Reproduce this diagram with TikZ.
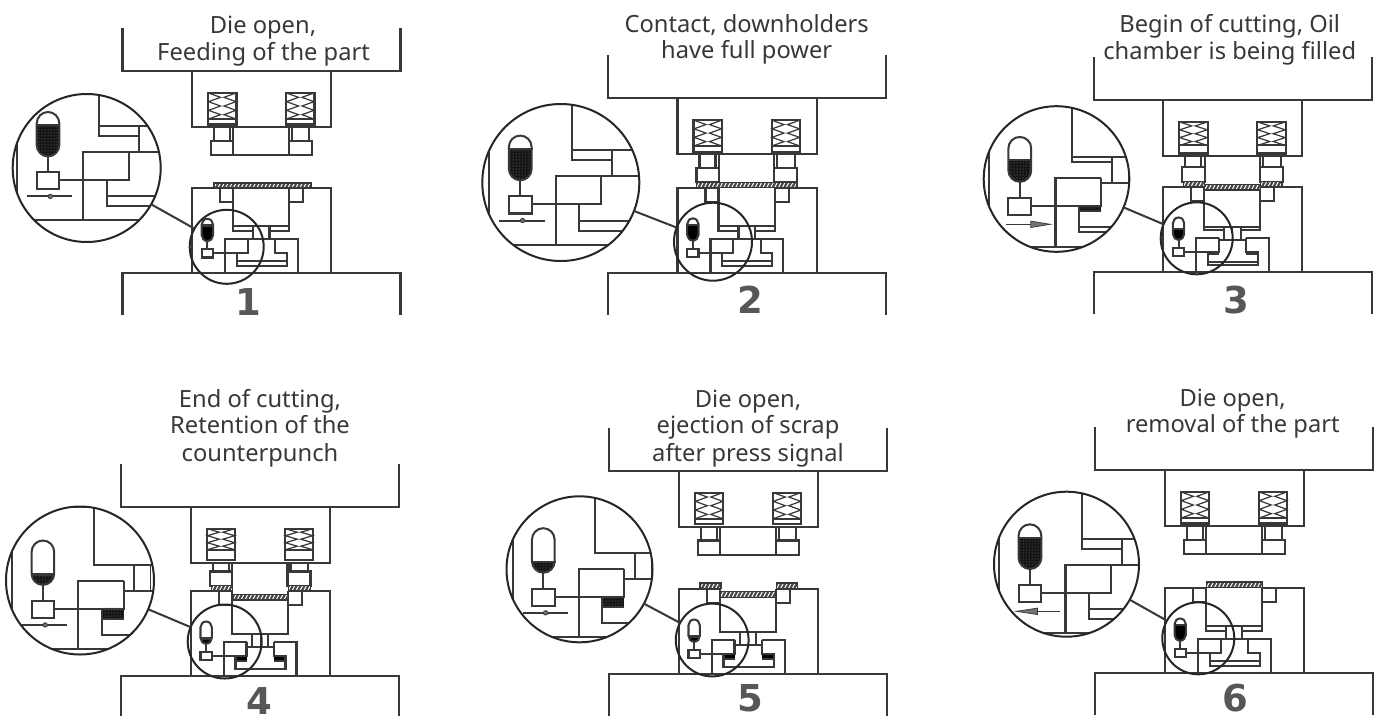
\documentclass[tikz,border=0pt]{standalone}
\usepackage{fontspec}
\setmainfont{DejaVu Sans}
\newfontfamily\capfont{Noto Sans}
\usetikzlibrary{patterns}
\definecolor{ink}{HTML}{383838}
\tikzset{
  captext/.style={anchor=base,inner sep=0,text=black!78,font=\capfont\fontsize{23.7}{27}\selectfont},
  numtext/.style={anchor=base,inner sep=0,text=black!66,font=\bfseries\fontsize{37}{40}\selectfont},
  lensbig/.style={circle,draw=black!85,line width=2pt,inner sep=0,outer sep=0},
  oilsolid/.style={fill=black},
  oiltex/.style={preaction={fill=black!92},pattern=dots,pattern color=black!45},
  oil/.style={oilsolid}
}
% hatched plate
\newcommand{\hatchbar}[4]{%
  \begin{scope}
    \clip (#1,#2) rectangle (#3,#4);
    \fill[black!72] (#1,#2) rectangle (#3,#4);
    \foreach \k in {0,...,27}{\draw[white,line width=1pt] ({#1+\k*3.9-4},{#4}) -- ++(3.4,-6.5);}
  \end{scope}
  \draw[line width=1.2pt] (#1,#2) rectangle (#3,#4);}
% spring box, local left edge #1
\newcommand{\springbox}[1]{%
  \pgfmathsetmacro{\St}{-8-(28.3-\Fw)}%
  \pgfmathsetmacro{\Zh}{(\St+34)/6}%
  \draw (#1,-34) rectangle ({#1+28.5},-2.5);
  \draw ({#1},\St) -- ({#1+28.5},\St);
  \draw[line width=1.2pt] ({#1+.5},-34) -- ({#1+12.5},{-34+\Zh}) -- ({#1+.5},{-34+2*\Zh}) -- ({#1+12.5},{-34+3*\Zh}) -- ({#1+.5},{-34+4*\Zh}) -- ({#1+12.5},{-34+5*\Zh}) -- ({#1+.5},\St);
  \draw[line width=1.2pt] ({#1+28},-34) -- ({#1+16},{-34+\Zh}) -- ({#1+28},{-34+2*\Zh}) -- ({#1+16},{-34+3*\Zh}) -- ({#1+28},{-34+4*\Zh}) -- ({#1+16},{-34+5*\Zh}) -- ({#1+28},\St);}
% upper tool
\newcommand{\uppertool}{%
  \pgfmathsetmacro{\Ft}{\Fw-14.5}%
  \springbox{85.5}\springbox{163.5}
  \draw (91.5,0) -- (91.5,\Ft) (107.5,0) -- (107.5,\Ft) (110.8,0) -- (110.8,\Fw);
  \draw (88.5,\Ft) rectangle (110.8,\Fw);
  \draw (186.8,0) -- (186.8,\Ft) (169.2,0) -- (169.2,\Ft) (166.2,0) -- (166.2,\Fw);
  \draw (166.2,\Ft) rectangle (189.2,\Fw);
  \ifnum\Cl=0 \draw (110.8,\Fw) -- (166.2,\Fw);\fi}
% die internals, local to (left of press, top of die)
\newcommand{\dieinner}{%
  \pgfmathsetmacro{\Bb}{38+\Dk}%
  \pgfmathsetmacro{\Tt}{51+\Dk}%
  \pgfmathsetmacro{\Pt}{65+\Dk}%
  \pgfmathsetmacro{\Pl}{73+\Dk}%
  \ifdim\Dk pt>0pt \fill[oil] (114.2,64.5) rectangle (125.2,\Pt); \fill[oil] (152.5,64.5) rectangle (164.2,\Pt);\fi
  % die body and press face
  \draw (0,127) -- (0,85) -- (278,85) -- (278,127);
  \draw (69.5,85) -- (69.5,0) -- (110.5,0) (166.5,0) -- (208.5,0) -- (208.5,85);
  % side squares
  \draw (97.5,0) -- (97.5,14) -- (110.5,14) (166.5,14) -- (180.5,14) -- (180.5,0);
  % centre block
  \draw (110.5,0) -- (110.5,43) -- (130.5,43) (166.5,0) -- (166.5,43) -- (147,43);
  \draw (110.5,\Bb) -- (166.5,\Bb);
  \draw (130.5,\Bb) -- (130.5,\Tt) (147,\Bb) -- (147,\Tt);
  \ifdim\Dk pt>0pt \draw[line width=1pt] (138.7,\Bb) -- (138.7,\Tt);\fi
  % lower housing
  \draw (102.5,85) -- (102.5,51) -- (125.2,51) (152.5,51) -- (175.2,51) -- (175.2,85);
  \draw (125.2,\Tt) -- (152.5,\Tt);
  % cavity
  \draw (125.2,51) -- (125.2,65) -- (114.2,65) -- (114.2,78) -- (164.2,78) -- (164.2,65) -- (152.5,65) -- (152.5,51);
  \draw (114.2,\Pt) -- (125.2,\Pt) (152.5,\Pt) -- (164.2,\Pt);
  \draw (114.2,\Pl) -- (164.2,\Pl);
  % accumulator
  \begin{scope}
    \clip \capsule;
    \fill[oil] (78,\Lev) rectangle (92,54);
  \end{scope}
  \draw \capsule;
  \draw (79,\Lev) -- (91,\Lev);
  \draw (84.85,53) -- (84.85,61);
  \draw (79.2,61) rectangle (90.5,69.5);
  \draw (90.5,65) -- (114.2,65);}
\newcommand{\capsule}{(79.2,36.5) .. controls (79.2,33.4) and (81.7,30.8) .. (84.85,30.8) .. controls (88,30.8) and (90.5,33.4) .. (90.5,36.5) -- (90.5,47.3) .. controls (90.5,50.4) and (88,53) .. (84.85,53) .. controls (81.7,53) and (79.2,50.4) .. (79.2,47.3) -- cycle}
\newcommand{\valvedot}{\draw (74.5,73) -- (97,73); \filldraw[fill=black!55,line width=.8pt] (86,73) circle [radius=1.1];}
\newcommand{\valveright}{\draw[line width=1.2pt] (78,74) -- (92,74); \filldraw[fill=black!55,line width=.7pt] (90.3,72.4) -- (100,74) -- (90.3,75.6) -- cycle;}
\newcommand{\valveleft}{\draw[line width=1.2pt] (99.7,74) -- (86,74); \filldraw[fill=black!55,line width=.7pt] (88.6,72.4) -- (78,74) -- (88.6,75.6) -- cycle;}
% whole panel
\newcommand{\panel}[1]{%
  \begin{scope}[shift={(\Ox,\Tp)}]
    \draw (0,-43) -- (0,0) -- (278,0) -- (278,-43);
    \draw (69.5,0) rectangle (208.5,56);
  \end{scope}
  \begin{scope}[shift={({\Ox},{\Tp+56})}]
    \uppertool
  \end{scope}
  \begin{scope}[shift={(\Ox,\Dt)}]
    \dieinner
    \Plates
  \end{scope}
  \begin{scope}
    \clip (\Bx,\By) circle [radius=\Br];
    \pgfmathsetmacro{\Sc}{\Br/\Sr}
    \begin{scope}[shift={(\Bx,\By)},scale=\Sc,shift={({\Ox-\Sx},{\Dt-\Sy})},oil/.style={oiltex}]
      \dieinner
      \Valve
    \end{scope}
  \end{scope}
  \node[lensbig,minimum size={2*\Br*1pt}] (big#1) at (\Bx,\By) {};
  \node[lensbig,minimum size={2*\Sr*1pt}] (small#1) at (\Sx,\Sy) {};
  \draw (big#1) -- (small#1);}
\begin{document}
\begin{tikzpicture}[x=1pt,y=-1pt,line width=2.02pt,draw=ink]
\useasboundingbox (0,0) rectangle (1381,715);
\fill[white] (0,0) rectangle (1381,715);
% 1
\def\Ox{122.5}\def\Tp{71}\def\Dt{188}\def\Dk{0}\def\Fw{28.3}\def\Cl{0}\def\Lev{37.5}
\def\Bx{86.7}\def\By{168}\def\Br{74}\def\Sx{226.7}\def\Sy{246.8}\def\Sr{37}
\def\Plates{\hatchbar{91.5}{-5}{188.5}{0}}\let\Valve\valvedot
\panel{1}
\node[captext] (c1a) at (263,33) {Die open,};
\node[captext] (c1b) at (263.6,60) {Feeding of the part};
\node[numtext] (n1) at (248.3,315) {1};
% 2
\def\Ox{608}\def\Tp{98.3}\def\Dt{187.6}\def\Dk{0}\def\Fw{27.9}\def\Cl{1}\def\Lev{37.5}
\def\Bx{560.8}\def\By{182.5}\def\Br{78.5}\def\Sx{713}\def\Sy{241.7}\def\Sr{39}
\def\Plates{\hatchbar{88.7}{-5.4}{188.9}{0}}\let\Valve\valvedot
\panel{2}
\node[captext] (c2a) at (746.7,32) {Contact, downholders};
\node[captext] (c2b) at (746.7,58.3) {have full power};
\node[numtext] (n2) at (750.7,313.3) {2};
% 3
\def\Ox{1093.7}\def\Tp{100}\def\Dt{186.7}\def\Dk{2.5}\def\Fw{25.7}\def\Cl{1}\def\Lev{42}
\def\Bx{1056.5}\def\By{179}\def\Br{72.8}\def\Sx{1196.7}\def\Sy{238.3}\def\Sr{36}
\def\Plates{\hatchbar{89.7}{-5}{111}{0}\hatchbar{111}{-2.2}{166.5}{3.3}\hatchbar{166.5}{-5}{188.3}{0}}\let\Valve\valveright
\panel{3}
\node[captext] (c3a) at (1229.7,32.7) {Begin of cutting, Oil};
\node[captext] (c3b) at (1229.7,59) {chamber is being filled};
\node[numtext] (n3) at (1236.7,313) {3};
% 4
\def\Ox{121.3}\def\Tp{506.7}\def\Dt{590.7}\def\Dk{5}\def\Fw{23.3}\def\Cl{1}\def\Lev{47.8}
\def\Bx{80}\def\By{580.5}\def\Br{74}\def\Sx{224.7}\def\Sy{641.5}\def\Sr{37}
\def\Plates{\hatchbar{90.4}{-5}{111.4}{0}\hatchbar{112}{3.6}{167}{9.3}\hatchbar{167}{-5}{189}{0}}\let\Valve\valvedot
\panel{4}
\node[captext] (c4a) at (260,407) {End of cutting,};
\node[captext] (c4b) at (260,433.7) {Retention of the};
\node[captext] (c4c) at (260,461) {counterpunch};
\node[numtext] (n4) at (259.3,714.5) {4};
% 5
\def\Ox{609.3}\def\Tp{470.7}\def\Dt{588.7}\def\Dk{5}\def\Fw{28.3}\def\Cl{0}\def\Lev{47.8}
\def\Bx{579.5}\def\By{569.3}\def\Br{73}\def\Sx{712.2}\def\Sy{640}\def\Sr{36.4}
\def\Plates{\hatchbar{90.7}{-5.7}{111.7}{0}\hatchbar{111.2}{2.7}{166.7}{8.7}\hatchbar{167.4}{-5.7}{188}{0}}\let\Valve\valvedot
\panel{5}
\node[captext] (c5a) at (748,407) {Die open,};
\node[captext] (c5b) at (748,433.7) {ejection of scrap};
\node[captext] (c5c) at (748,461) {after press signal};
\node[numtext] (n5) at (750,711) {5};
% 6
\def\Ox{1095.3}\def\Tp{470}\def\Dt{587.7}\def\Dk{0}\def\Fw{28.3}\def\Cl{0}\def\Lev{37.5}
\def\Bx{1066.5}\def\By{564.2}\def\Br{72.5}\def\Sx{1198.3}\def\Sy{638.3}\def\Sr{36}
\def\Plates{\hatchbar{111.4}{-5.7}{167.4}{0}}\let\Valve\valveleft
\panel{6}
\node[captext] (c6a) at (1232.7,406) {Die open,};
\node[captext] (c6b) at (1232.7,432.7) {removal of the part};
\node[numtext] (n6) at (1235,711.7) {6};
\end{tikzpicture}
\end{document}
